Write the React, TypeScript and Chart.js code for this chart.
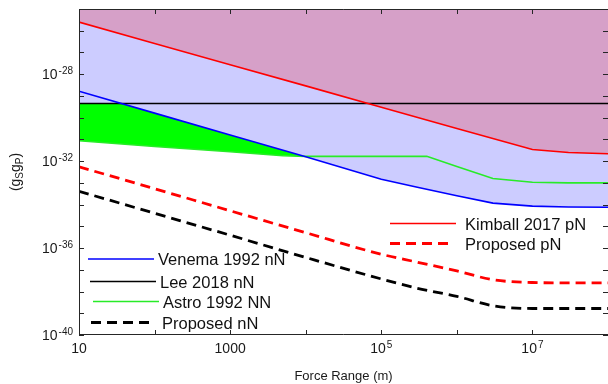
import React, { useEffect, useRef } from "react";
import { Chart, registerables } from "chart.js";

Chart.register(...registerables);

// ---- data ----
const kimballX = [10, 100, 1e3, 1e4, 1e5, 1e6, 1e7, 3e7, 1e8];
const kimballPN = [2.5e-26, 2.6e-27, 2.75e-28, 2.9e-29, 3.0e-30, 3.2e-31, 3.4e-32, 2.5e-32, 2.2e-32];

const venemaX = [10, 100, 1e3, 1e4, 1e5, 3e5, 1e6, 3e6, 1e7, 3e7, 1e8];
const venemaNN = [1.66e-29, 1.62e-30, 1.58e-31, 1.58e-32, 1.48e-33, 6.3e-34, 2.57e-34, 1.17e-34, 8.5e-35, 7.8e-35, 7.6e-35];

const leeX = [10, 1e8];
const leeNN = [4.5e-30, 4.5e-30];

const astroX = [10, 100, 1e3, 5e3, 1e4, 4e5, 1e6, 3e6, 1e7, 3e7, 1e8];
const astroNN = [8.7e-32, 4.7e-32, 2.7e-32, 1.78e-32, 1.66e-32, 1.66e-32, 5.6e-33, 1.58e-33, 1.07e-33, 1.0e-33, 1.0e-33];

const proposedX = [10, 100, 1e3, 1e4, 1e5, 3e5, 1e6, 3e6, 1e7, 3e7, 1e8];
const proposedPN = [5.5e-33, 5.4e-34, 5.2e-35, 5.1e-36, 5.2e-37, 2.24e-37, 8.9e-38, 3.5e-38, 2.6e-38, 2.5e-38, 2.5e-38];
const proposedNN = [4.1e-34, 4.0e-35, 3.9e-36, 3.7e-37, 3.8e-38, 1.41e-38, 6.0e-39, 2.24e-39, 1.66e-39, 1.66e-39, 1.66e-39];

const xTickValues = [10, 1e3, 1e5, 1e7];
const xTickBases = ["10", "1000", "10", "10"];
const xTickSups = ["", "", "5", "7"];
const yTickValues = [1e-40, 1e-36, 1e-32, 1e-28];
const yTickBases = ["10", "10", "10", "10"];
const yTickSups = ["-40", "-36", "-32", "-28"];

const xTitle = "Force Range (m)";
const yTitleParts = [
  { t: "(g", sub: false },
  { t: "S", sub: true },
  { t: "g", sub: false },
  { t: "P", sub: true },
  { t: ")", sub: false },
];

const FONT = '"Liberation Sans", Arial, Helvetica, sans-serif';
const PURPLE = "rgb(214,160,200)";
const LAVENDER = "rgb(204,204,255)";
const GREEN_FILL = "rgb(0,255,0)";
const GREEN_LINE = "rgb(40,235,40)";

const pts = (xs: number[], ys: number[]) => xs.map((x, i) => ({ x, y: ys[i] }));

// legend layout: [dataset label, lineStart, lineEnd, y, textX]
const legendLayout: [string, number, number, number, number][] = [
  ["Kimball 2017 pN", 390, 456, 223.5, 465],
  ["Proposed pN", 390, 452, 243.5, 465],
  ["Venema 1992 nN", 88, 154, 259, 158],
  ["Lee 2018 nN", 90, 156, 281.5, 160],
  ["Astro 1992 NN", 93, 159, 301.5, 163],
  ["Proposed nN", 91, 154, 322.5, 162],
];

function drawSupLabel(
  ctx: CanvasRenderingContext2D,
  base: string,
  sup: string,
  x: number,
  baseline: number,
  align: "center" | "right"
) {
  ctx.font = `14px ${FONT}`;
  const wb = ctx.measureText(base).width;
  ctx.font = `10px ${FONT}`;
  const ws = sup ? ctx.measureText(sup).width + 1 : 0;
  const total = wb + ws;
  const x0 = align === "center" ? x - total / 2 : x - total;
  ctx.textAlign = "left";
  ctx.textBaseline = "alphabetic";
  ctx.font = `14px ${FONT}`;
  ctx.fillText(base, x0, baseline);
  if (sup) {
    ctx.font = `10px ${FONT}`;
    ctx.fillText(sup, x0 + wb + 1, baseline - 5.5);
  }
}

const decorPlugin = {
  id: "decor",
  afterDraw(chart: any) {
    const ctx: CanvasRenderingContext2D = chart.ctx;
    const { left, right, top, bottom } = chart.chartArea;
    const xs = chart.scales.x;
    const ys = chart.scales.y;
    ctx.save();
    // frame (right side lies at the canvas edge)
    ctx.strokeStyle = "#262626";
    ctx.lineWidth = 1;
    ctx.beginPath();
    ctx.moveTo(right, top + 0.5);
    ctx.lineTo(left + 0.5, top + 0.5);
    ctx.lineTo(left + 0.5, bottom - 0.5);
    ctx.lineTo(right, bottom - 0.5);
    ctx.stroke();
    // inward ticks
    ctx.beginPath();
    for (let k = 1; k <= 8; k++) {
      const px = Math.round(xs.getPixelForValue(Math.pow(10, k))) + 0.5;
      ctx.moveTo(px, bottom);
      ctx.lineTo(px, bottom - 5);
      ctx.moveTo(px, top);
      ctx.lineTo(px, top + 5);
    }
    for (let k = -40; k <= -25; k++) {
      const py = Math.round(ys.getPixelForValue(Math.pow(10, k))) + 0.5;
      ctx.moveTo(left, py);
      ctx.lineTo(left + 5, py);
      ctx.moveTo(right, py);
      ctx.lineTo(right - 5, py);
    }
    ctx.stroke();

    // tick labels
    ctx.fillStyle = "#1a1a1a";
    xTickValues.forEach((v, i) => {
      drawSupLabel(ctx, xTickBases[i], xTickSups[i], xs.getPixelForValue(v), bottom + 18, "center");
    });
    yTickValues.forEach((v, i) => {
      drawSupLabel(ctx, yTickBases[i], yTickSups[i], left - 6, ys.getPixelForValue(v) + 5, "right");
    });

    // x title
    ctx.font = `13px ${FONT}`;
    ctx.textAlign = "center";
    ctx.textBaseline = "alphabetic";
    ctx.fillText(xTitle, (left + right) / 2, 380);

    // y title with subscripts
    ctx.save();
    ctx.translate(20, (top + bottom) / 2);
    ctx.rotate(-Math.PI / 2);
    let total = 0;
    const widths = yTitleParts.map((p) => {
      ctx.font = `${p.sub ? 10 : 14}px ${FONT}`;
      const w = ctx.measureText(p.t).width;
      total += w;
      return w;
    });
    let cx = -total / 2;
    ctx.textAlign = "left";
    yTitleParts.forEach((p, i) => {
      ctx.font = `${p.sub ? 10 : 14}px ${FONT}`;
      ctx.fillText(p.t, cx, p.sub ? 3 : 0);
      cx += widths[i];
    });
    ctx.restore();

    // legends
    legendLayout.forEach(([label, x0, x1, y, tx]) => {
      const ds = chart.data.datasets.find((d: any) => d.label === label);
      if (!ds) return;
      ctx.save();
      ctx.strokeStyle = ds.borderColor;
      ctx.lineWidth = ds.borderWidth;
      ctx.setLineDash(ds.borderDash || []);
      ctx.beginPath();
      ctx.moveTo(x0, y);
      ctx.lineTo(x1, y);
      ctx.stroke();
      ctx.setLineDash([]);
      ctx.fillStyle = "#111";
      ctx.font = `16.5px ${FONT}`;
      ctx.textAlign = "left";
      ctx.textBaseline = "alphabetic";
      ctx.fillText(label, tx, y + 6);
      ctx.restore();
    });
    ctx.restore();
  },
};

export default function App() {
  const ref = useRef<HTMLCanvasElement>(null);
  useEffect(() => {
    if (!ref.current) return;
    const chart = new Chart(ref.current, {
      type: "line",
      data: {
        datasets: [
          { label: "Kimball 2017 pN", data: pts(kimballX, kimballPN), borderColor: "rgb(255,0,0)", borderWidth: 1.6, fill: false, order: 1, tension: 0 },
          { label: "Venema 1992 nN", data: pts(venemaX, venemaNN), borderColor: "rgb(0,0,255)", borderWidth: 1.6, fill: false, order: 2, tension: 0 },
          { label: "Lee 2018 nN", data: pts(leeX, leeNN), borderColor: "rgb(0,0,0)", borderWidth: 1.6, fill: false, order: 3, tension: 0 },
          { label: "Astro 1992 NN", data: pts(astroX, astroNN), borderColor: GREEN_LINE, borderWidth: 1.6, fill: false, order: 4, tension: 0 },
          { label: "Proposed pN", data: pts(proposedX, proposedPN), borderColor: "rgb(255,0,0)", borderWidth: 2.8, borderDash: [10, 6], fill: false, order: 5, cubicInterpolationMode: "monotone" },
          { label: "Proposed nN", data: pts(proposedX, proposedNN), borderColor: "rgb(0,0,0)", borderWidth: 2.8, borderDash: [10, 6], fill: false, order: 6, cubicInterpolationMode: "monotone" },
          // fill-only layers
          { label: "_purple", data: pts(kimballX, kimballPN), borderWidth: 0, borderColor: "transparent", backgroundColor: PURPLE, fill: "end", order: 20, tension: 0 },
          { label: "_lavBlue", data: pts(venemaX, venemaNN), borderWidth: 0, borderColor: "transparent", backgroundColor: LAVENDER, fill: "end", order: 30, tension: 0 },
          { label: "_lavBlack", data: pts(leeX, leeNN), borderWidth: 0, borderColor: "transparent", backgroundColor: LAVENDER, fill: "end", order: 30, tension: 0 },
          { label: "_green", data: pts(astroX, astroNN), borderWidth: 0, borderColor: "transparent", backgroundColor: GREEN_FILL, fill: 2, order: 40, tension: 0 },
        ] as any,
      },
      options: {
        animation: false,
        responsive: false,
        maintainAspectRatio: false,
        layout: { padding: { left: 79, top: 9, right: 0, bottom: 49 } },
        elements: { point: { radius: 0, hoverRadius: 0 } },
        plugins: { legend: { display: false }, tooltip: { enabled: false }, title: { display: false } },
        scales: {
          x: { type: "logarithmic", min: 10, max: 1e8, display: false },
          y: { type: "logarithmic", min: 1e-40, max: 1e-25, display: false },
        },
      } as any,
      plugins: [decorPlugin],
    });
    return () => chart.destroy();
  }, []);
  return (
    <div style={{ position: "fixed", left: 0, top: 0, width: 608, height: 384, background: "#fff" }}>
      <canvas ref={ref} width={608} height={384} style={{ display: "block", width: 608, height: 384 }} />
    </div>
  );
}
